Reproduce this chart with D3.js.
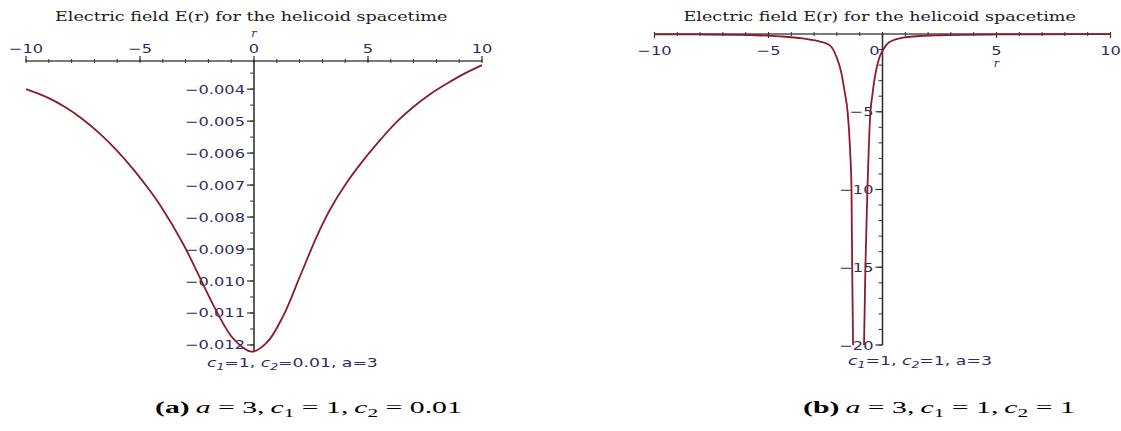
<!DOCTYPE html>
<html>
<head>
<meta charset="utf-8">
<script src="https://cdn.jsdelivr.net/npm/d3@7"></script>
<style>
  html, body { margin: 0; padding: 0; background: #fff; }
  svg { display: block; }
</style>
</head>
<body>
<svg id="fig" width="1121" height="431"></svg>
<script>
// ---- data -------------------------------------------------------------
// (a) c1 = 1, c2 = 0.01, a = 3
const rA = [-10, -9, -8.2, -7.5, -6.75, -6, -5.3, -4.56, -4.1, -3.1, -2.37, -1.64,
            -0.91, -0.1, 0.56, 1.29, 2.02, 2.75, 3.33, 4.07, 4.8, 5.55, 6.28, 7,
            7.74, 8.5, 9.19, 10];
const eA = [-0.00400, -0.00428, -0.00460, -0.00495, -0.00540, -0.00593, -0.00650,
            -0.00718, -0.00765, -0.00885, -0.00990, -0.01095, -0.01180, -0.01221,
            -0.01193, -0.01108, -0.00985, -0.00861, -0.00777, -0.00692, -0.00622,
            -0.00558, -0.00501, -0.00455, -0.00415, -0.00381, -0.00353, -0.00325];

// (b) c1 = 1, c2 = 1, a = 3 : two branches around the singular region
const rBLeft = [-10, -8, -6.5, -5.5, -4.5, -3.5, -3.04, -2.74, -2.31, -2.02, -1.8,
                -1.65, -1.53, -1.42, -1.36, -1.33, -1.29];
const eBLeft = [-0.02, -0.03, -0.05, -0.08, -0.15, -0.28, -0.39, -0.49, -0.73, -1.46,
                -2.53, -3.8, -5, -7.5, -10, -15, -20];
const rBRight = [-0.81, -0.75, -0.66, -0.53, -0.45, -0.36, -0.26, -0.12, 0, 0.18,
                 0.47, 0.9, 1.64, 2.5, 3.5, 5, 7, 10];
const eBRight = [-20, -15, -10, -5, -4, -3, -2.2, -1.45, -1.08, -0.68, -0.4, -0.24,
                 -0.13, -0.08, -0.05, -0.03, -0.02, -0.01];

// ---- ticks and labels -------------------------------------------------
const xMajor = [-10, -5, 0, 5, 10];
const xMinor = d3.range(-10, 10.01, 1);
const yMajorA = [-0.004, -0.005, -0.006, -0.007, -0.008, -0.009, -0.010, -0.011, -0.012];
const yMinorA = d3.range(-0.0035, -0.01221, -0.0005);
const yMajorB = [-5, -10, -15, -20];
const yMinorB = d3.range(-1, -20.01, -1);

const title = "Electric field E(r) for the helicoid spacetime";

// ---- styling ----------------------------------------------------------
const curveColor = "#8b1c2c";
const labelColor = "#2e2c5c";
const tickFont = "DejaVu Sans, sans-serif";
const titleFont = "DejaVu Serif, serif";
const captionFont = "Liberation Serif, serif";
const stretchX = 1.3;

const svg = d3.select("#fig");
const minus = s => s.replace(/-/g, "\u2212");

// stretches a text node horizontally so it spans `width` starting at x0
function fitStart(sel, x0, y0, width) {
  const w = sel.node().getBBox().width;
  sel.attr("transform", `translate(${x0},${y0}) scale(${width / w},1)`);
}

function tickLabel(g, x, y, txt, anchor) {
  g.append("text")
    .attr("transform", `translate(${x},${y}) scale(${stretchX},1)`)
    .attr("text-anchor", anchor)
    .attr("font-family", tickFont)
    .attr("font-size", 12.5)
    .attr("fill", labelColor)
    .text(txt);
}

function legend(g, x0, y0, width, c2) {
  const t = g.append("text")
    .attr("font-family", tickFont)
    .attr("font-size", 12.5)
    .attr("fill", labelColor);
  t.append("tspan").attr("font-style", "italic").text("c");
  t.append("tspan").attr("font-style", "italic").attr("font-size", 9).attr("dy", 3).text("1");
  t.append("tspan").attr("dy", -3).text("=1, ");
  t.append("tspan").attr("font-style", "italic").text("c");
  t.append("tspan").attr("font-style", "italic").attr("font-size", 9).attr("dy", 3).text("2");
  t.append("tspan").attr("dy", -3).text(`=${c2}, a=3`);
  fitStart(t, x0, y0, width);
}

function caption(x0, y0, width, tag, c2) {
  const t = svg.append("text")
    .attr("font-family", captionFont)
    .attr("font-size", 17.5)
    .attr("fill", "#000");
  t.append("tspan").attr("font-weight", "bold").text(`(${tag})`);
  t.append("tspan").text("\u2009");
  t.append("tspan").attr("font-style", "italic").text("a");
  t.append("tspan").text(" = 3,\u2009");
  t.append("tspan").attr("font-style", "italic").text("c");
  t.append("tspan").attr("font-size", 12.5).attr("dy", 3.5).text("1");
  t.append("tspan").attr("dy", -3.5).text(" = 1,\u2009");
  t.append("tspan").attr("font-style", "italic").text("c");
  t.append("tspan").attr("font-size", 12.5).attr("dy", 3.5).text("2");
  t.append("tspan").attr("dy", -3.5).text(` = ${c2}`);
  fitStart(t, x0, y0, width);
}

function titleText(cx, width) {
  const t = svg.append("text")
    .attr("font-family", titleFont)
    .attr("font-size", 13)
    .attr("fill", "#1c1c1c")
    .text(title);
  fitStart(t, cx - width / 2, 21, width);
}

const line = (x, y, curve) => d3.line().x(d => x(d[0])).y(d => y(d[1])).curve(curve);

// ---- panel (a) --------------------------------------------------------
{
  const g = svg.append("g");
  const x = d3.scaleLinear().domain([-10, 10]).range([26, 482]);
  const y = d3.scaleLinear().domain([-0.01222, -0.00312]).range([352, 61]);
  const y0 = y.range()[1];
  const x0 = x(0);

  // horizontal axis at the top
  g.append("line").attr("x1", x(-10)).attr("x2", x(10)).attr("y1", y0).attr("y2", y0)
    .attr("stroke", "#7a7a7a").attr("stroke-width", 2);
  g.selectAll(".xmin").data(xMinor).join("line")
    .attr("x1", d => x(d)).attr("x2", d => x(d)).attr("y1", y0 - 2).attr("y2", y0 + 2)
    .attr("stroke", "#333").attr("stroke-width", 1);
  g.selectAll(".xmaj").data(xMajor).join("line")
    .attr("x1", d => x(d)).attr("x2", d => x(d)).attr("y1", y0 - 5).attr("y2", y0 + 1)
    .attr("stroke", "#333").attr("stroke-width", 1.2);
  xMajor.forEach(v => tickLabel(g, x(v), 53, minus(String(v)), "middle"));
  g.append("text").attr("x", x0).attr("y", 37).attr("text-anchor", "middle")
    .attr("font-family", titleFont).attr("font-style", "italic").attr("font-size", 11)
    .attr("fill", labelColor).text("r");

  // vertical axis at r = 0
  g.append("line").attr("x1", x0).attr("x2", x0).attr("y1", y0).attr("y2", y.range()[0])
    .attr("stroke", "#2a2a2a").attr("stroke-width", 1.5);
  g.selectAll(".ymin").data(yMinorA).join("line")
    .attr("x1", x0 - 4).attr("x2", x0).attr("y1", d => y(d)).attr("y2", d => y(d))
    .attr("stroke", "#333").attr("stroke-width", 1);
  g.selectAll(".ymaj").data(yMajorA).join("line")
    .attr("x1", x0 - 7).attr("x2", x0).attr("y1", d => y(d)).attr("y2", d => y(d))
    .attr("stroke", "#333").attr("stroke-width", 1.2);
  yMajorA.forEach(v => tickLabel(g, x0 - 9, y(v) + 4.5, minus(d3.format(".3f")(v)), "end"));

  g.append("path").datum(d3.zip(rA, eA))
    .attr("d", line(x, y, d3.curveCatmullRom.alpha(0.5))).attr("fill", "none")
    .attr("stroke", curveColor).attr("stroke-width", 1.8);

  legend(g, 207, 367, 171, "0.01");
}

// ---- panel (b) --------------------------------------------------------
{
  const g = svg.append("g");
  const x = d3.scaleLinear().domain([-10, 10]).range([654.5, 1110.5]);
  const y = d3.scaleLinear().domain([-20, 0]).range([345, 34]);
  const y0 = y(0);
  const x0 = x(0);

  g.append("line").attr("x1", x(-10)).attr("x2", x(10)).attr("y1", y0).attr("y2", y0)
    .attr("stroke", "#7a7a7a").attr("stroke-width", 2);
  g.selectAll(".xmin").data(xMinor).join("line")
    .attr("x1", d => x(d)).attr("x2", d => x(d)).attr("y1", y0 - 2).attr("y2", y0 + 2)
    .attr("stroke", "#333").attr("stroke-width", 1);
  g.selectAll(".xmaj").data(xMajor).join("line")
    .attr("x1", d => x(d)).attr("x2", d => x(d)).attr("y1", y0 - 2).attr("y2", y0 + 4)
    .attr("stroke", "#333").attr("stroke-width", 1.2);
  xMajor.forEach(v => tickLabel(g, v === 0 ? x(v) - 8 : x(v), 55, minus(String(v)), "middle"));
  g.append("text").attr("x", x(5)).attr("y", 67).attr("text-anchor", "middle")
    .attr("font-family", titleFont).attr("font-style", "italic").attr("font-size", 11)
    .attr("fill", labelColor).text("r");

  g.append("line").attr("x1", x0).attr("x2", x0).attr("y1", y0).attr("y2", y(-20))
    .attr("stroke", "#2a2a2a").attr("stroke-width", 1.5);
  g.selectAll(".ymin").data(yMinorB).join("line")
    .attr("x1", x0 - 4).attr("x2", x0).attr("y1", d => y(d)).attr("y2", d => y(d))
    .attr("stroke", "#333").attr("stroke-width", 1);
  g.selectAll(".ymaj").data(yMajorB).join("line")
    .attr("x1", x0 - 7).attr("x2", x0).attr("y1", d => y(d)).attr("y2", d => y(d))
    .attr("stroke", "#333").attr("stroke-width", 1.2);
  yMajorB.forEach(v => tickLabel(g, x0 - 9, y(v) + 4.5, minus(String(v)), "end"));

  [d3.zip(rBLeft, eBLeft), d3.zip(rBRight, eBRight)].forEach(pts => {
    g.append("path").datum(pts)
      .attr("d", line(x, y, d3.curveMonotoneX)).attr("fill", "none")
      .attr("stroke", curveColor).attr("stroke-width", 1.8);
  });

  legend(g, 848, 365, 144, "1");
}

titleText(251.5, 393);
titleText(880, 393);
caption(155, 413, 307, "a", "0.01");
caption(803, 413, 272, "b", "1");
</script>
</body>
</html>
